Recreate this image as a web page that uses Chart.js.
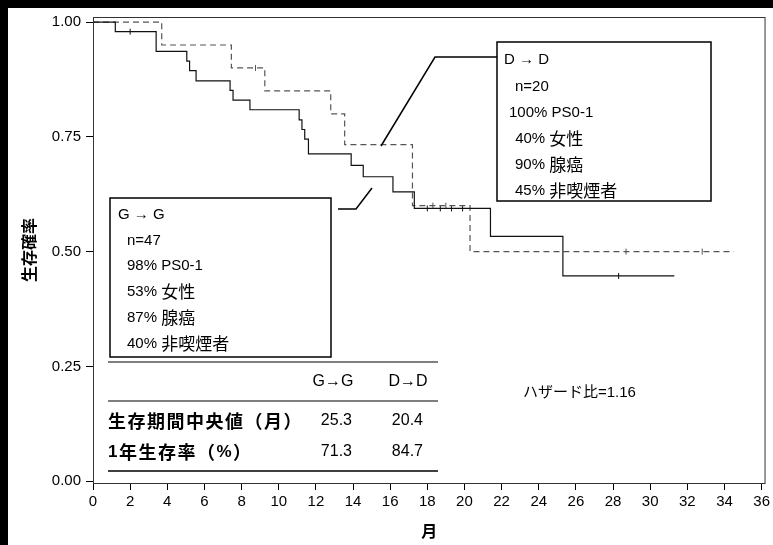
<!DOCTYPE html>
<html>
<head>
<meta charset="utf-8">
<script src="https://cdn.jsdelivr.net/npm/chart.js@4/dist/chart.umd.min.js"></script>
<style>
  html, body { margin: 0; padding: 0; background: #fff; }
  #wrap { position: relative; width: 773px; height: 545px; }
</style>
</head>
<body>
<div id="wrap"><canvas id="km" width="773" height="545"></canvas></div>
<script>
// Kaplan-Meier estimates: time (months) where the curve steps, and survival from that time on
const ggTimes = [0, 1.2, 3.4, 5.05, 5.2, 5.55, 7.38, 7.54, 8.45, 11.1, 11.25, 11.4, 11.6, 13.9, 14.55, 16.15, 17.3, 21.4, 25.3, 31.3];
const ggSurv  = [1.0, 0.979, 0.936, 0.915, 0.894, 0.872, 0.851, 0.830, 0.809, 0.787, 0.766, 0.745, 0.713, 0.688, 0.663, 0.630, 0.594, 0.533, 0.447, 0.447];
const ddTimes = [0, 3.7, 7.45, 9.25, 12.8, 13.55, 17.2, 20.3, 34.5];
const ddSurv  = [1.0, 0.95, 0.90, 0.85, 0.80, 0.733, 0.60, 0.50, 0.50];

// censored observations (months)
const ggCensor = [2.0, 18.0, 18.7, 19.3, 19.9, 28.3];
const ddCensor = [8.75, 18.3, 19.0, 28.7, 32.8];

const xTicks = [0, 2, 4, 6, 8, 10, 12, 14, 16, 18, 20, 22, 24, 26, 28, 30, 32, 34, 36];
const yTicks = [0, 0.25, 0.5, 0.75, 1.0];

// summary table
const tableHeader = ['G→G', 'D→D'];
const tableRows = ['生存期間中央値（月）', '1年生存率（%）'];
const ggStats = ['25.3', '71.3'];
const ddStats = ['20.4', '84.7'];

const ggInfo = ['G → G', 'n=47', '98% PS0-1', '53% 女性', '87% 腺癌', '40% 非喫煙者'];
const ddInfo = ['D → D', 'n=20', '100% PS0-1', ' 40% 女性', '90% 腺癌', '45% 非喫煙者'];
const hazardText = 'ハザード比=1.16';

const LAT = '"Liberation Sans", Arial, "Noto Sans CJK JP", sans-serif';
const NARROW = '"Liberation Sans Narrow", "Arial Narrow", "Liberation Sans", sans-serif';
const CJK = '"Noto Sans CJK JP", "Liberation Sans", sans-serif';
const CJK_RE = /[\u3000-\u9fff\uff00-\uffef]/;

function survAt(times, surv, t) {
  let s = surv[0];
  for (let i = 0; i < times.length; i++) if (times[i] <= t) s = surv[i];
  return s;
}
const toPts = (ts, ss) => ts.map((t, i) => ({x: t, y: ss[i]}));
const censorPts = (cs, ts, ss) => cs.map(t => ({x: t, y: survAt(ts, ss, t)}));

// draws a string with Latin and Japanese runs at their own sizes
function drawMixed(ctx, text, x, y, latin, cjk, weight, align) {
  const runs = text.match(/[\u3000-\u9fff\uff00-\uffef]+|[^\u3000-\u9fff\uff00-\uffef]+/g) || [];
  const fontFor = r => CJK_RE.test(r) ? `${weight} ${cjk}px ${CJK}` : `${weight} ${latin}px ${LAT}`;
  let total = 0;
  runs.forEach(r => { ctx.font = fontFor(r); total += ctx.measureText(r).width; });
  let cx = align === 'right' ? x - total : align === 'center' ? x - total / 2 : x;
  ctx.textAlign = 'left';
  runs.forEach(r => {
    ctx.font = fontFor(r);
    ctx.fillText(r, cx, y);
    cx += ctx.measureText(r).width;
  });
}

const decor = {
  id: 'decor',
  beforeDraw(chart) {
    const {ctx, width, height} = chart;
    ctx.save();
    ctx.fillStyle = '#000';
    ctx.fillRect(0, 0, width, height);
    ctx.fillStyle = '#fff';
    ctx.fillRect(8, 8, width - 8, height - 8);
    ctx.restore();
  },
  afterDraw(chart) {
    const {ctx, chartArea: a} = chart;
    ctx.save();
    // plot frame
    ctx.strokeStyle = '#333';
    ctx.lineWidth = 1;
    ctx.strokeRect(a.left + 0.5, a.top + 0.5, a.right - a.left - 1, a.bottom - a.top);

    const line = (pts, w) => {
      ctx.lineWidth = w || 1.5;
      ctx.strokeStyle = '#000';
      ctx.beginPath();
      ctx.moveTo(pts[0][0], pts[0][1]);
      for (let i = 1; i < pts.length; i++) ctx.lineTo(pts[i][0], pts[i][1]);
      ctx.stroke();
    };

    // group boxes
    ctx.lineWidth = 1.5;
    ctx.strokeStyle = '#000';
    ctx.strokeRect(497, 42, 214, 159);
    ctx.strokeRect(110, 198, 221, 159);
    // leader lines
    line([[497, 57], [435, 57], [381, 146]]);
    line([[338, 209], [356, 209], [372, 188]]);

    ctx.fillStyle = '#000';
    ctx.textBaseline = 'middle';
    const ddX = [504, 515, 509, 511, 515, 515];
    const ddY = [60, 87, 113, 139, 165, 191];
    ddInfo.forEach((s, i) => drawMixed(ctx, s, ddX[i], ddY[i], 15, 17, 'normal', 'left'));
    const ggX = [118, 127, 127, 127, 127, 127];
    const ggY = [215, 241, 266, 292, 318, 344];
    ggInfo.forEach((s, i) => drawMixed(ctx, s, ggX[i], ggY[i], 15, 17, 'normal', 'left'));

    // summary table
    line([[108, 362], [438, 362]], 1.2);
    line([[108, 401], [438, 401]], 1.2);
    line([[108, 471], [438, 471]], 1.6);
    ctx.font = '16px ' + LAT;
    ctx.textAlign = 'center';
    ctx.fillText(tableHeader[0], 333, 382);
    ctx.fillText(tableHeader[1], 408, 382);
    const rowY = [421, 452];
    ctx.letterSpacing = '1.5px';
    tableRows.forEach((s, i) => drawMixed(ctx, s, 108, rowY[i], 17, 18, 'bold', 'left'));
    ctx.letterSpacing = '0px';
    ctx.font = '16px ' + LAT;
    ctx.textAlign = 'right';
    ggStats.forEach((s, i) => ctx.fillText(s, 352, rowY[i]));
    ddStats.forEach((s, i) => ctx.fillText(s, 423, rowY[i]));

    ctx.textAlign = 'left';
    ctx.font = '15px ' + LAT;
    ctx.fillText(hazardText, 523, 393);
    ctx.restore();
  }
};

new Chart(document.getElementById('km'), {
  type: 'scatter',
  data: {
    datasets: [
      {
        label: 'G→G',
        data: toPts(ggTimes, ggSurv),
        showLine: true,
        stepped: 'before',
        borderColor: '#111',
        borderWidth: 1.2,
        pointRadius: 0
      },
      {
        label: 'D→D',
        data: toPts(ddTimes, ddSurv),
        showLine: true,
        stepped: 'before',
        borderColor: '#555',
        borderWidth: 1.2,
        borderDash: [6, 4],
        pointRadius: 0
      },
      {
        label: 'G→G censored',
        data: censorPts(ggCensor, ggTimes, ggSurv),
        showLine: false,
        pointStyle: 'line',
        rotation: 90,
        radius: 3,
        borderColor: '#111',
        borderWidth: 1
      },
      {
        label: 'D→D censored',
        data: censorPts(ddCensor, ddTimes, ddSurv),
        showLine: false,
        pointStyle: 'line',
        rotation: 90,
        radius: 3,
        borderColor: '#555',
        borderWidth: 1
      }
    ]
  },
  options: {
    responsive: false,
    animation: false,
    devicePixelRatio: 1,
    layout: { padding: { top: 17, right: 3, left: 0, bottom: 0 } },
    plugins: { legend: { display: false }, tooltip: { enabled: false } },
    scales: {
      x: {
        type: 'linear',
        min: 0,
        max: 36.21,
        afterFit: s => { s.height = 62; },
        afterBuildTicks: s => { s.ticks = xTicks.map(v => ({value: v})); },
        border: { display: false },
        grid: { drawOnChartArea: false, drawTicks: true, tickLength: 7, color: '#000' },
        ticks: { color: '#000', padding: 3, maxRotation: 0, font: { family: NARROW, size: 15 } },
        title: { display: true, text: '月', color: '#000', padding: { top: 0, bottom: 4 },
                 font: { family: CJK, size: 16, weight: 'bold' } }
      },
      y: {
        type: 'linear',
        min: -0.004,
        max: 1.011,
        afterFit: s => { s.width = 93; },
        afterBuildTicks: s => { s.ticks = yTicks.map(v => ({value: v})); },
        border: { display: false },
        grid: { drawOnChartArea: false, drawTicks: true, tickLength: 7, color: '#000' },
        ticks: { color: '#000', padding: 5, font: { family: LAT, size: 15 },
                 callback: v => Number(v).toFixed(2) },
        title: { display: true, text: '生存確率', color: '#000', padding: { top: 19, bottom: 0 },
                 font: { family: CJK, size: 16, weight: 'bold' } }
      }
    }
  },
  plugins: [decor]
});
</script>
</body>
</html>
